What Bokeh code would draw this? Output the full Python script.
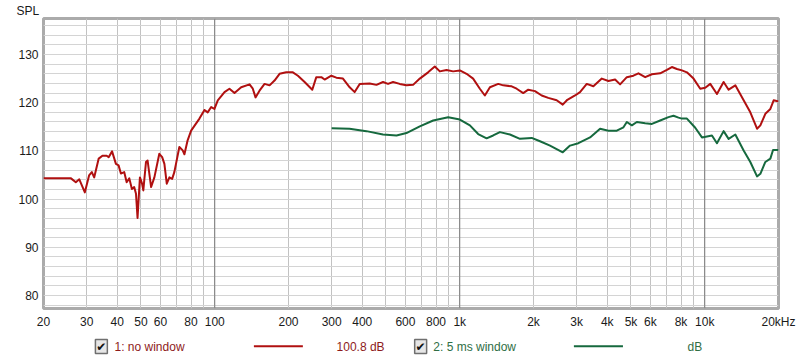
from bokeh.plotting import figure
from bokeh.models import FixedTicker, Span, Title
from bokeh.layouts import column
from bokeh.core.properties import value
from bokeh.embed import file_html
from bokeh.resources import INLINE

# ---- data ----
freq_nowin = [20, 22.1, 23.9, 25.9, 27.1, 28.0, 29.5, 30.7, 31.5, 32.2, 33.6, 34.8, 36.2, 36.9,
              38.1, 39.5, 40.5, 41.4, 42.7, 43.7, 44.8, 45.9, 46.9, 47.7, 48.4, 49.5, 50.5, 51.1,
              52.4, 53.2, 55.0, 56.7, 59.4, 61.0, 62.3, 63.7, 65.3, 67.0, 68.4, 71.7, 74.0, 75.2,
              77.5, 80.1, 86.6, 90.8, 93.6, 96.7, 99.7, 102.9, 109.6, 114.8, 120.4, 128.2, 138.7,
              143.0, 146.7, 152.3, 159.7, 167.4, 175.4, 183.9, 195.8, 208.4, 218.5, 232.7, 250.1,
              259.7, 272.3, 280.9, 299.2, 313.6, 333.7, 355.4, 372.5, 390.6, 429.0, 457.1, 486.2,
              509.7, 534.3, 569.0, 606.0, 644.9, 687.0, 742.6, 791.0, 829.2, 883.1, 939.7, 1001,
              1066, 1134, 1208, 1266, 1328, 1436, 1505, 1629, 1707, 1816, 1904, 2028, 2160, 2298,
              2487, 2633, 2749, 2955, 3097, 3299, 3511, 3800, 4044, 4306, 4512, 4808, 5115, 5362,
              5713, 6085, 6578, 7007, 7343, 7696, 8069, 8456, 9000, 9585, 10047, 10531, 11216,
              11939, 12515, 13329, 14413, 15346, 16347, 16864, 17675, 18526, 19112, 19842, 20000]
spl_nowin = [104.3, 104.3, 104.3, 104.3, 103.5, 104.1, 101.4, 104.9, 105.6, 104.5, 108.4, 109.0,
             109.0, 108.7, 109.9, 107.3, 107.0, 105.3, 105.6, 103.5, 104.3, 102.1, 102.5, 101.1,
             96.1, 104.5, 103.2, 101.8, 107.7, 108.0, 102.5, 104.5, 109.4, 108.7, 107.3, 103.2,
             104.5, 104.2, 105.6, 110.8, 110.1, 109.3, 112.2, 114.2, 116.7, 118.5, 118.0, 119.1,
             118.7, 120.5, 122.2, 122.9, 122.0, 123.2, 123.8, 122.9, 121.1, 122.5, 123.9, 123.6,
             124.6, 126.0, 126.3, 126.3, 125.6, 124.3, 122.7, 125.3, 125.3, 124.8, 125.6, 125.2,
             125.0, 123.2, 122.2, 123.9, 124.0, 123.7, 124.3, 123.9, 124.3, 123.9, 123.6, 123.7,
             125.0, 126.3, 127.5, 126.5, 126.8, 126.5, 126.7, 126.0, 125.0, 122.9, 121.5, 123.2,
             123.9, 123.6, 123.4, 122.9, 122.0, 122.7, 122.4, 121.5, 121.0, 120.5, 119.6, 120.6,
             121.5, 122.2, 123.9, 123.4, 125.0, 124.5, 124.8, 123.8, 125.3, 125.6, 126.1, 125.3,
             125.9, 126.1, 126.8, 127.4, 127.0, 126.7, 126.3, 125.0, 122.9, 123.1, 123.9, 121.8,
             124.3, 122.7, 123.6, 120.5, 118.0, 114.6, 115.3, 117.7, 118.7, 120.5, 120.3, 120.3]

freq_5ms = [300, 355, 416, 486, 552, 606, 687, 779, 897, 1001, 1100, 1189, 1287, 1369, 1459,
            1603, 1761, 1966, 2126, 2336, 2633, 2819, 3049, 3403, 3740, 4044, 4376, 4658, 4808,
            5040, 5283, 5713, 6085, 6578, 7112, 7455, 7815, 8069, 8456, 9146, 9741, 10209, 10700,
            11216, 11939, 12515, 13329, 14413, 15346, 16347, 16864, 17675, 18526, 19000, 20000]
spl_5ms = [114.7, 114.6, 114.1, 113.4, 113.2, 113.7, 115.1, 116.3, 117.0, 116.5, 115.3, 113.5,
           112.6, 113.2, 113.9, 113.4, 112.5, 112.7, 112.0, 111.1, 109.7, 111.1, 111.6, 112.8,
           114.6, 114.2, 114.2, 114.9, 116.0, 115.3, 116.0, 115.75, 115.6, 116.3, 117.0, 117.3,
           116.9, 116.7, 116.7, 114.8, 112.8, 113.0, 113.2, 111.6, 114.1, 112.5, 113.4, 110.1,
           107.7, 104.7, 105.25, 107.7, 108.4, 110.2, 110.2]

x_label_ticks = [20, 30, 40, 50, 60, 80, 100, 200, 300, 400, 600, 800, 1000, 2000, 3000, 4000,
                 5000, 6000, 8000, 10000, 20000]
x_label_text = ["20", "30", "40", "50", "60", "80", "100", "200", "300", "400", "600", "800",
                "1k", "2k", "3k", "4k", "5k", "6k", "8k", "10k", "20kHz"]
x_minor_ticks = [70, 90, 500, 700, 900, 7000, 9000]
x_decades = [100, 1000, 10000]
y_label_ticks = [80, 90, 100, 110, 120, 130]
y_minor_ticks = [78, 82, 84, 86, 88, 92, 94, 96, 98, 102, 104, 106, 108, 112, 114, 116, 118,
                 122, 124, 126, 128, 132, 134, 136]
y_title = "SPL"
legend_names = ["1: no window", "2: 5 ms window"]
legend_values = ["100.8 dB", "dB"]

RED = "#B01010"
GREEN = "#16693E"
RED_TXT = "#8E1B1B"
GREEN_TXT = "#2F6E45"
FONT = "Liberation Sans"

p = figure(x_axis_type="log", x_range=(20, 20000), y_range=(77.3, 137.47),
           frame_width=735, frame_height=290,
           min_border_left=43, min_border_right=22, min_border_top=18, min_border_bottom=24,
           output_backend="svg", toolbar_location=None,
           background_fill_color="white", border_fill_color="white")
p.outline_line_color = "#ABABAB"
p.outline_line_width = 3

p.title = Title(text=y_title, align="left", offset=-27, standoff=1,
                text_font=FONT, text_font_size="12px", text_font_style="normal",
                text_color="#1A1A1A")

# axes
p.xaxis.ticker = FixedTicker(ticks=x_label_ticks, minor_ticks=x_minor_ticks)
p.xaxis.major_label_overrides = {t: s for t, s in zip(x_label_ticks, x_label_text)}
p.yaxis.ticker = FixedTicker(ticks=y_label_ticks, minor_ticks=y_minor_ticks)
for ax in (p.xaxis[0], p.yaxis[0]):
    ax.axis_line_color = None
    ax.major_tick_line_color = None
    ax.minor_tick_line_color = None
    ax.major_tick_out = 0
    ax.minor_tick_out = 0
    ax.major_label_text_font = FONT
    ax.major_label_text_font_size = "12px"
    ax.major_label_text_color = "#1A1A1A"
p.xaxis.major_label_standoff = 6
p.yaxis.major_label_standoff = 5

p.xgrid.grid_line_color = "#C2C2C2"
p.xgrid.minor_grid_line_color = "#C2C2C2"
p.ygrid.grid_line_color = "#D4D4D4"
p.ygrid.minor_grid_line_color = "#D4D4D4"

for d in x_decades:
    p.add_layout(Span(location=d, dimension="height", line_color="#7A7A7A",
                      line_width=1, level="underlay"))

p.line(freq_nowin, spl_nowin, line_color=RED, line_width=2, line_join="round")
p.line(freq_5ms, spl_5ms, line_color=GREEN, line_width=2, line_join="round")

# ---- legend row (separate strip under the chart, pixel layout coordinates) ----
leg = figure(width=800, height=28, x_range=(0, 800), y_range=(28, 0),
             min_border=0, output_backend="svg", toolbar_location=None,
             background_fill_color="white", border_fill_color="white")
leg.axis.visible = False
leg.grid.visible = False
leg.outline_line_color = None

box_x = [63, 410.5]
leg.rect(x=box_x, y=[14, 14], width=13, height=14, fill_color="#E6E6E6",
         line_color="#6F6F6F", line_width=1.5)
leg.text(x=box_x, y=[14.5, 14.5], text=["\u2714", "\u2714"], text_font=value("DejaVu Sans"),
         text_font_size="12px", text_color="#111111",
         text_align="center", text_baseline="middle")
leg.text(x=[77.3, 319], y=[14, 14], text=[legend_names[0], legend_values[0]],
         text_font=value(FONT), text_font_size="12px", text_color=RED_TXT,
         text_baseline="middle")
leg.text(x=[424.3, 701], y=[14, 14], text=[legend_names[1], legend_values[1]],
         text_font=value(FONT), text_font_size="12px", text_color=GREEN_TXT,
         text_baseline="middle")
leg.segment(x0=[229, 577.3], y0=[13.7, 13.7], x1=[282.3, 630.7], y1=[13.7, 13.7],
            line_color=[RED, GREEN], line_width=2)

layout = column(p, leg, spacing=0)
open("out.html", "w").write(file_html(layout, INLINE))
